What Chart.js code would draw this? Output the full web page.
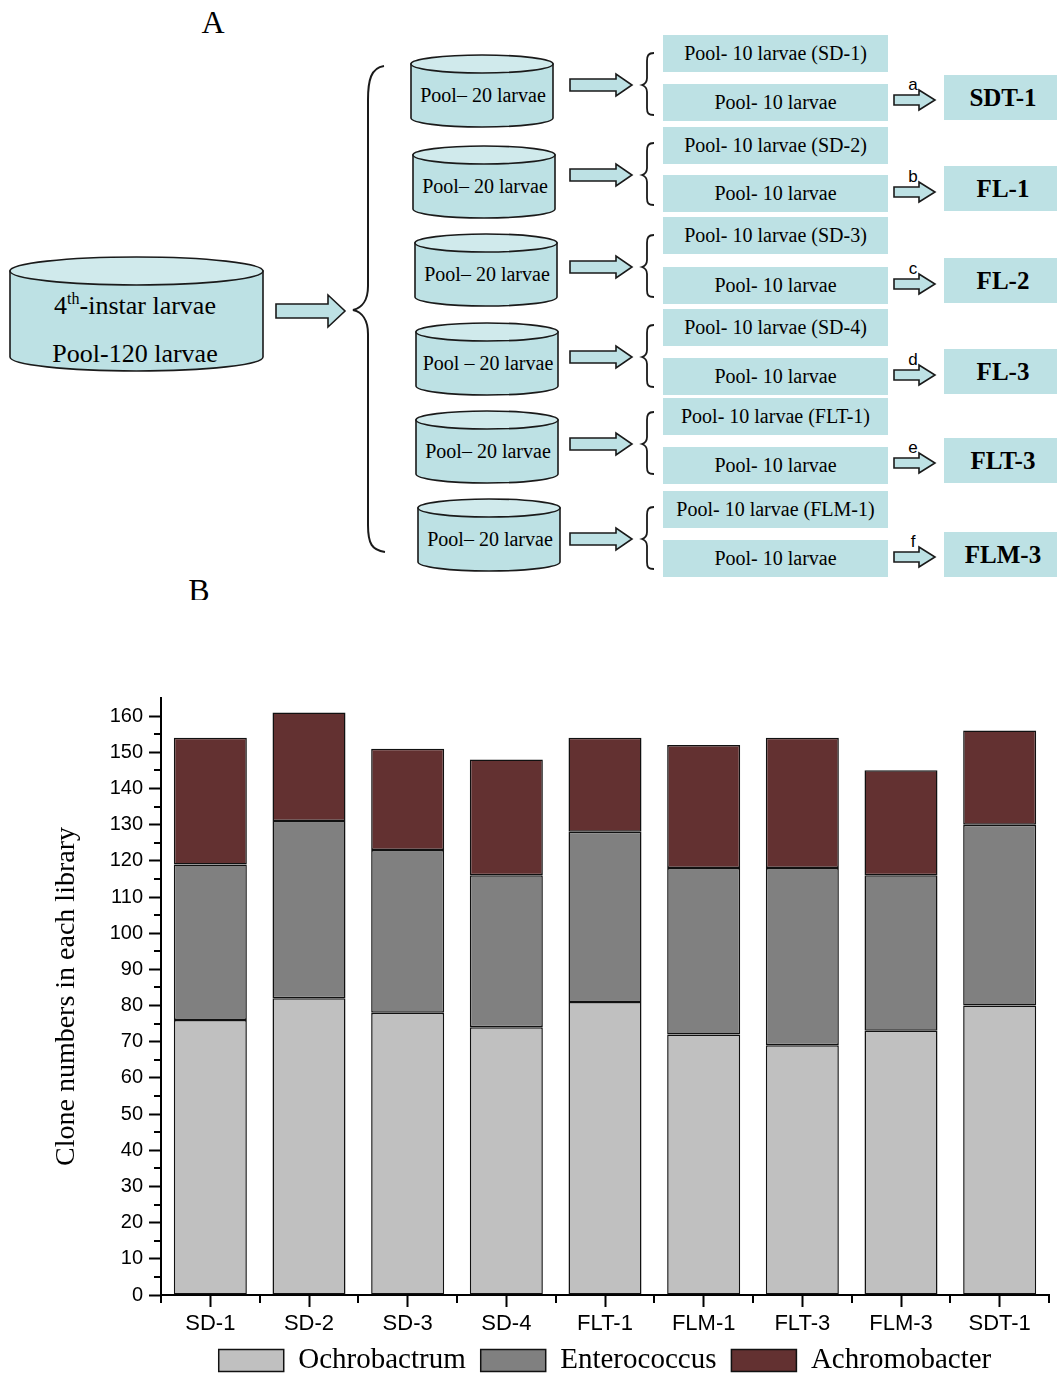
<!DOCTYPE html>
<html>
<head>
<meta charset="utf-8">
<script src="https://cdn.jsdelivr.net/npm/chart.js@4.4.0/dist/chart.umd.min.js"></script>
<style>
  html, body { margin: 0; padding: 0; background: #fff; overflow: hidden; }
  #page { position: relative; width: 1057px; height: 1375px; overflow: hidden; background: #fff; }
  #scheme { position: absolute; left: 0; top: 0; }
  #chartBox { position: absolute; left: 0; top: 600px; width: 1057px; height: 785px; }
</style>
</head>
<body>
<div id="page">
  <svg id="scheme" width="1057" height="600" xmlns="http://www.w3.org/2000/svg"></svg>
  <div id="chartBox"><canvas id="chart"></canvas></div>
</div>
<script>
//-----------------------------------------------------------------------------
// Data
//-----------------------------------------------------------------------------

var categories = ['SD-1', 'SD-2', 'SD-3', 'SD-4', 'FLT-1', 'FLM-1', 'FLT-3', 'FLM-3', 'SDT-1'];
var ochrobactrum = [76, 82, 78, 74, 81, 72, 69, 73, 80];
var enterococcus = [43, 49, 45, 42, 47, 46, 49, 43, 50];
var achromobacter = [35, 30, 28, 32, 26, 34, 36, 29, 26];
var yMax = 165;
var yStep = 10;

// panel A texts
var poolLabels = ['Pool\u2013 20 larvae', 'Pool\u2013 20 larvae', 'Pool\u2013 20 larvae',
                  'Pool \u2013 20 larvae', 'Pool\u2013 20 larvae', 'Pool\u2013 20 larvae'];
var splitLabels = ['Pool- 10 larvae (SD-1)', 'Pool- 10 larvae (SD-2)', 'Pool- 10 larvae (SD-3)',
                   'Pool- 10 larvae (SD-4)', 'Pool- 10 larvae (FLT-1)', 'Pool- 10 larvae (FLM-1)'];
var restLabel = 'Pool- 10 larvae';
var stepLetters = ['a', 'b', 'c', 'd', 'e', 'f'];
var resultLabels = ['SDT-1', 'FL-1', 'FL-2', 'FL-3', 'FLT-3', 'FLM-3'];

//-----------------------------------------------------------------------------
// Panel A (svg scheme)
//-----------------------------------------------------------------------------

var SVGNS = 'http://www.w3.org/2000/svg';
var svg = document.getElementById('scheme');
var SERIF = 'Liberation Serif, Times New Roman, serif';
var SANS = 'Liberation Sans, Arial, sans-serif';
var FILL = '#bde1e4', FILL_TOP = '#d0eaec', INK = '#1a1a1a';

function el(tag, attrs, text) {
  var e = document.createElementNS(SVGNS, tag);
  for (var k in attrs) e.setAttribute(k, attrs[k]);
  if (text !== undefined) e.textContent = text;
  svg.appendChild(e);
  return e;
}

function label(x, y, str, size, opts) {
  opts = opts || {};
  return el('text', {x: x, y: y, 'text-anchor': 'middle', 'font-family': opts.family || SERIF,
    'font-size': size, 'font-weight': opts.weight || 'normal', fill: '#000'}, str);
}

function cylinder(x, y, w, h, ry) {
  var rx = w / 2;
  el('path', {d: 'M' + x + ',' + (y + ry) + ' L' + x + ',' + (y + h - ry) +
    ' A' + rx + ',' + ry + ' 0 0 0 ' + (x + w) + ',' + (y + h - ry) +
    ' L' + (x + w) + ',' + (y + ry) + ' Z', fill: FILL, stroke: INK, 'stroke-width': 1.6});
  el('ellipse', {cx: x + rx, cy: y + ry, rx: rx, ry: ry, fill: FILL_TOP, stroke: INK, 'stroke-width': 1.6});
}

// block arrow pointing right
function arrow(x0, xHead, x1, cy, sh, hh) {
  var pts = [[x0, cy - sh], [xHead, cy - sh], [xHead, cy - hh], [x1, cy],
             [xHead, cy + hh], [xHead, cy + sh], [x0, cy + sh]];
  el('polygon', {points: pts.map(function(p) { return p.join(','); }).join(' '),
    fill: FILL, stroke: INK, 'stroke-width': 1.6, 'stroke-linejoin': 'miter'});
}

function smallBrace(t) {
  var d = 'M654,' + (t - 32) + ' C648,' + (t - 32) + ' 647,' + (t - 29) + ' 647,' + (t - 24) +
          ' L647,' + (t - 7) + ' C647,' + (t - 3) + ' 645,' + (t - 1) + ' 642,' + t +
          ' C645,' + (t + 1) + ' 647,' + (t + 3) + ' 647,' + (t + 7) +
          ' L647,' + (t + 23) + ' C647,' + (t + 28) + ' 648,' + (t + 30) + ' 654,' + (t + 30);
  el('path', {d: d, fill: 'none', stroke: INK, 'stroke-width': 1.8});
}

// panel letters
label(213, 33, 'A', 32);
label(199, 601, 'B', 32);

// big pool
cylinder(10, 257, 253, 114, 14);
var t = el('text', {x: 135, y: 314, 'text-anchor': 'middle', 'font-family': SERIF, 'font-size': 26, fill: '#000'});
[['4', 0, 26], ['th', -10, 16], ['-instar larvae', 10, 26]].forEach(function(part) {
  var s = document.createElementNS(SVGNS, 'tspan');
  s.setAttribute('dy', part[1]);
  s.setAttribute('font-size', part[2]);
  s.textContent = part[0];
  t.appendChild(s);
});
label(135, 362, 'Pool-120 larvae', 26);

arrow(276, 328, 345, 311, 7, 16);

// big brace
el('path', {d: 'M384,66 C371,68 368,80 368,100 L368,286 C368,300 362,308 353,310 ' +
  'C362,312 368,320 368,334 L368,525 C368,544 372,550 385,552', fill: 'none', stroke: INK, 'stroke-width': 2});

var cylX = [411, 413, 415, 416, 416, 418];
var cylY = [55, 146, 234, 323, 411, 499];
var midY = [85, 175, 267, 357, 444, 539];
var topBoxY = [35, 127, 217, 309, 398, 491];
var lowBoxY = [84, 175, 267, 358, 447, 540];
var outY = [100, 192, 284, 375, 463, 557];
var resY = [75, 166, 258, 349, 438, 532];

poolLabels.forEach(function(txt, i) {
  cylinder(cylX[i], cylY[i], 142, 72, 9);
  label(cylX[i] + 72, cylY[i] + 47, txt, 20);
  arrow(570, 616, 632, midY[i], 6, 11);
  smallBrace(midY[i]);

  el('rect', {x: 663, y: topBoxY[i], width: 225, height: 37, fill: FILL});
  label(775.5, topBoxY[i] + 25, splitLabels[i], 20);
  el('rect', {x: 663, y: lowBoxY[i], width: 225, height: 37, fill: FILL});
  label(775.5, lowBoxY[i] + 25, restLabel, 20);

  arrow(894, 919, 935, outY[i], 5, 10);
  label(913, outY[i] - 10, stepLetters[i], 17, {family: SANS});

  el('rect', {x: 944, y: resY[i], width: 118, height: 45, fill: FILL});
  label(1003, resY[i] + 31, resultLabels[i], 25, {weight: 'bold'});
});

//-----------------------------------------------------------------------------
// Panel B (Chart.js)
//-----------------------------------------------------------------------------

// minor ticks: half steps on y, category borders on x
var minorTicks = {
  id: 'minorTicks',
  afterDraw: function(chart) {
    var ctx = chart.ctx, x = chart.scales.x, y = chart.scales.y;
    ctx.save();
    ctx.strokeStyle = '#000';
    ctx.lineWidth = 2;
    ctx.beginPath();
    for (var v = yStep / 2; v < yMax; v += yStep) {
      var py = Math.round(y.getPixelForValue(v));
      ctx.moveTo(x.left, py);
      ctx.lineTo(x.left - 7, py);
    }
    for (var i = 0; i <= categories.length; i++) {
      var px = Math.round(x.getPixelForValue(i - 0.5));
      ctx.moveTo(px, y.bottom);
      ctx.lineTo(px, y.bottom + 8);
    }
    ctx.stroke();
    ctx.restore();
  }
};

var axisGrid = {drawOnChartArea: false, drawTicks: true, tickLength: 12, tickWidth: 2, tickColor: '#000', color: '#000'};
var barStyle = {borderColor: '#111', borderWidth: 1.5, borderSkipped: false};

new Chart(document.getElementById('chart'), {
  type: 'bar',
  data: {
    labels: categories,
    datasets: [
      Object.assign({label: 'Ochrobactrum', data: ochrobactrum, backgroundColor: '#c0c0c0'}, barStyle),
      Object.assign({label: 'Enterococcus', data: enterococcus, backgroundColor: '#808080'}, barStyle),
      Object.assign({label: 'Achromobacter', data: achromobacter, backgroundColor: '#633131'}, barStyle)
    ]
  },
  options: {
    responsive: true,
    maintainAspectRatio: false,
    animation: false,
    layout: {padding: {top: 98, right: 8, left: 0, bottom: 0}},
    datasets: {bar: {categoryPercentage: 1, barPercentage: 0.74}},
    plugins: {
      tooltip: {enabled: false},
      legend: {
        position: 'bottom',
        fullSize: false,
        labels: {boxWidth: 65, boxHeight: 22, padding: 15, color: '#000',
                 font: {family: 'Liberation Serif', size: 29}}
      }
    },
    scales: {
      x: {
        stacked: true,
        grid: Object.assign({offset: false}, axisGrid),
        border: {display: true, color: '#000', width: 2},
        ticks: {color: '#000', padding: 4, autoSkip: false, maxRotation: 0,
                font: {family: 'Liberation Sans', size: 22}},
        afterFit: function(s) { s.height = 36; }
      },
      y: {
        stacked: true,
        min: 0,
        max: yMax,
        grid: axisGrid,
        border: {display: true, color: '#000', width: 2},
        ticks: {stepSize: yStep, includeBounds: false, color: '#000', padding: 6,
                font: {family: 'Liberation Sans', size: 20}},
        title: {display: true, text: 'Clone numbers in each library', color: '#000',
                font: {family: 'Liberation Serif', size: 28}, padding: {top: 50, bottom: 0}},
        afterFit: function(s) { s.width = 161; }
      }
    }
  },
  plugins: [minorTicks]
});
</script>
</body>
</html>
